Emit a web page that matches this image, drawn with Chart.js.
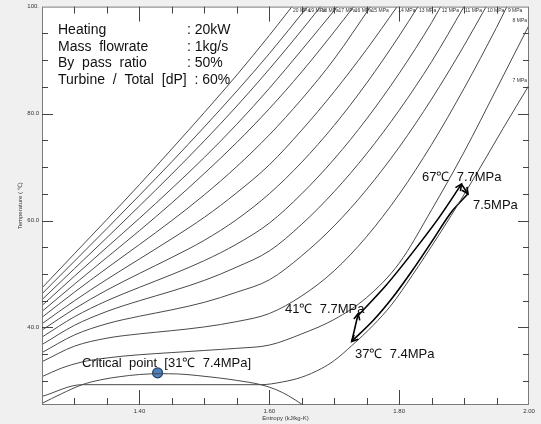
<!DOCTYPE html>
<html><head><meta charset="utf-8">
<script src="https://cdn.jsdelivr.net/npm/chart.js@4.4.1/dist/chart.umd.min.js"></script>
<style>
html,body{margin:0;padding:0;background:#f0f0f0;}
#wrap{width:541px;height:424px;}
</style></head><body>
<div id="wrap"><canvas id="c" width="541" height="424"></canvas></div>
<script>
// CO2 isobars, entropy (kJ/kg-K) vs temperature (C)
const s20 = [1.25,1.30,1.35,1.40,1.45,1.50,1.55,1.60,1.635];
const t20 = [47.4,53.8,60.2,66.7,73.4,80.2,87.2,94.6,100];
const s19 = [1.25,1.30,1.35,1.40,1.45,1.50,1.55,1.60,1.659];
const t19 = [46.3,52.4,58.5,64.7,71.0,77.5,84.2,91.2,100];
const s18 = [1.25,1.30,1.35,1.40,1.45,1.50,1.55,1.60,1.65,1.679];
const t18 = [45.2,51.0,56.8,62.7,68.7,74.9,81.4,88.3,95.6,100];
const s17 = [1.25,1.30,1.35,1.40,1.45,1.50,1.55,1.60,1.65,1.705];
const t17 = [44.1,49.6,55.0,60.4,66.0,71.8,78.0,84.7,91.9,100];
const s16 = [1.25,1.30,1.35,1.40,1.45,1.50,1.55,1.60,1.65,1.70,1.73];
const t16 = [43.0,48.1,53.1,58.1,63.3,68.8,74.6,80.9,87.8,95.3,100];
const s15 = [1.25,1.30,1.35,1.40,1.45,1.50,1.55,1.60,1.65,1.70,1.756];
const t15 = [41.9,46.6,51.1,55.5,60.0,64.8,70.1,76.0,82.7,90.2,100];
const s14 = [1.25,1.30,1.35,1.40,1.45,1.50,1.55,1.60,1.65,1.70,1.75,1.797];
const t14 = [40.7,45.0,49.0,52.8,56.6,60.6,65.2,70.4,76.9,84.1,92.0,100];
const s13 = [1.25,1.30,1.35,1.40,1.45,1.50,1.55,1.60,1.65,1.70,1.75,1.80,1.829];
const t13 = [39.5,43.5,47.0,50.1,53.1,56.3,60.2,65.0,70.9,77.8,85.7,94.5,100];
const s12 = [1.25,1.30,1.35,1.40,1.45,1.50,1.55,1.60,1.65,1.70,1.75,1.80,1.85,1.864];
const t12 = [38.2,42.0,45.0,47.5,49.9,52.5,55.6,59.5,65.0,71.5,79.0,87.5,97.0,100];
const s11 = [1.25,1.30,1.35,1.40,1.45,1.50,1.55,1.60,1.65,1.70,1.75,1.80,1.85,1.90];
const t11 = [36.8,40.4,43.0,45.0,46.8,48.8,51.3,54.3,59.3,65.4,72.5,80.6,89.7,100];
const s10 = [1.25,1.30,1.35,1.40,1.45,1.50,1.55,1.60,1.65,1.70,1.75,1.80,1.85,1.90,1.934];
const t10 = [35.3,38.6,40.7,42.1,43.3,44.7,46.6,48.9,53.4,59.0,65.8,73.7,82.7,92.7,100];
const s9 = [1.25,1.30,1.35,1.40,1.45,1.50,1.55,1.60,1.65,1.70,1.75,1.80,1.85,1.90,1.95,1.966];
const t9 = [33.6,36.5,38.0,38.8,39.4,40.1,41.1,42.6,45.9,50.6,57.0,64.9,74.2,84.7,96.1,100];
const s8 = [1.25,1.28,1.31,1.35,1.40,1.45,1.50,1.55,1.60,1.65,1.70,1.75,1.80,1.85,1.90,1.95,2.00];
const t8 = [30.8,32.4,33.5,34.3,34.9,35.3,35.7,36.1,36.7,38.8,41.5,45.6,52.0,62.0,72.8,84.6,96.5];
const s7 = [1.25,1.312,1.587,1.62,1.65,1.68,1.70,1.727,1.76,1.788,1.82,1.85,1.88,1.92,1.96,2.00];
const t7 = [27.1,29.3,29.3,29.8,30.7,32.3,33.8,36.6,40.4,44.2,49.7,55.2,60.9,68.9,77.2,85.3];
const pressures = ['20 MPa','19 MPa','18 MPa','17 MPa','16 MPa','15 MPa','14 MPa','13 MPa','12 MPa','11 MPa','10 MPa','9 MPa','8 MPa','7 MPa'];

// saturation dome
const sDome = [1.25,1.28,1.312,1.34,1.37,1.40,1.43,1.46,1.49,1.52,1.55,1.587,1.61,1.63,1.652];
const tDome = [25.8,27.6,29.3,30.2,30.8,31.2,31.35,31.3,31.0,30.6,30.1,29.3,28.4,27.2,25.5];
const critS = [1.428], critT = [31.5];

// cycle arrows
const heatS = [1.738,1.78,1.82,1.86,1.896];
const heatT = [42.4,47.9,53.9,60.3,66.8];
const expS = [1.896,1.906];
const expT = [66.8,65.0];
const coolS = [1.906,1.88,1.85,1.82,1.79,1.76,1.727];
const coolT = [65.0,61.5,56.0,50.6,45.6,41.3,37.4];
const compS = [1.727,1.737];
const compT = [37.4,42.6];

// ticks
const xMajor = [1.40,1.60,1.80,2.00];
const xMinor = [1.30,1.35,1.40,1.45,1.50,1.55,1.60,1.65,1.70,1.75,1.80,1.85,1.90,1.95];
const yMajor = [40,60,80,100];
const yMinor = [30,35,40,45,50,55,60,65,70,75,80,85,90,95];

const pts = (s,t) => s.map((v,i)=>({x:v,y:t[i]}));
const isoS = [s20,s19,s18,s17,s16,s15,s14,s13,s12,s11,s10,s9,s8,s7];
const isoT = [t20,t19,t18,t17,t16,t15,t14,t13,t12,t11,t10,t9,t8,t7];

const datasets = isoS.map((s,i)=>({data:pts(s,isoT[i]),borderColor:'#4a4a4a',borderWidth:1,pointRadius:0,showLine:true,cubicInterpolationMode:'monotone'}));
datasets.push({data:pts(sDome,tDome),borderColor:'#4a4a4a',borderWidth:1,pointRadius:0,showLine:true,cubicInterpolationMode:'monotone'});
const arrows = [[heatS,heatT],[expS,expT],[coolS,coolT],[compS,compT]];
arrows.forEach(a=>datasets.push({data:pts(a[0],a[1]),borderColor:'#000',borderWidth:1.6,pointRadius:0,showLine:true,tension:0.3,arrow:true}));
datasets.push({data:pts(critS,critT),pointRadius:5,pointBackgroundColor:'#4f81bd',pointBorderColor:'#1f3f66',pointBorderWidth:1.2,showLine:false});

const FONT = '"Liberation Sans", Arial, sans-serif';

const deco = {
  id:'deco',
  beforeDraw(c){
    const {ctx, chartArea:a} = c;
    ctx.save();
    ctx.fillStyle='#f0f0f0'; ctx.fillRect(0,0,c.width,c.height);
    ctx.fillStyle='#fff'; ctx.fillRect(a.left,a.top,a.right-a.left,a.bottom-a.top);
    ctx.restore();
  },
  afterDatasetsDraw(c){
    const {ctx, chartArea:a, scales:{x,y}} = c;
    ctx.save();
    // arrow heads
    c.data.datasets.forEach((d,i)=>{
      if(!d.arrow) return;
      const n=d.data.length, p=d.data[n-1], q=d.data[n-2];
      const px=x.getPixelForValue(p.x), py=y.getPixelForValue(p.y);
      const qx=x.getPixelForValue(q.x), qy=y.getPixelForValue(q.y);
      const ang=Math.atan2(py-qy,px-qx), L=7;
      ctx.strokeStyle='#000'; ctx.lineWidth=1.6;
      ctx.beginPath();
      ctx.moveTo(px-L*Math.cos(ang-0.45), py-L*Math.sin(ang-0.45));
      ctx.lineTo(px,py);
      ctx.lineTo(px-L*Math.cos(ang+0.45), py-L*Math.sin(ang+0.45));
      ctx.stroke();
    });
    // border and inward ticks
    ctx.strokeStyle='#7a7a7a'; ctx.lineWidth=1;
    ctx.strokeRect(a.left+0.5,a.top+0.5,a.right-a.left-1,a.bottom-a.top-1);
    ctx.strokeStyle='#444';
    ctx.beginPath();
    xMinor.forEach(v=>{
      const px=Math.round(x.getPixelForValue(v))+0.5, L=xMajor.includes(v)?15:7;
      ctx.moveTo(px,a.bottom); ctx.lineTo(px,a.bottom-L);
      ctx.moveTo(px,a.top); ctx.lineTo(px,a.top+L);
    });
    yMinor.forEach(v=>{
      const py=Math.round(y.getPixelForValue(v))+0.5, L=yMajor.includes(v)?11:6;
      ctx.moveTo(a.left,py); ctx.lineTo(a.left+L,py);
      ctx.moveTo(a.right,py); ctx.lineTo(a.right-L,py);
    });
    ctx.stroke();
    // isobar labels
    ctx.fillStyle='#333'; ctx.font='5px '+FONT; ctx.textBaseline='middle';
    isoS.forEach((s,i)=>{
      const t=isoT[i], ls=s[s.length-1], lt=t[t.length-1];
      if(lt>=100){ ctx.textAlign='left'; ctx.fillText(pressures[i], x.getPixelForValue(ls)+1, a.top+4); }
      else { ctx.textAlign='right'; ctx.fillText(pressures[i], a.right-2, y.getPixelForValue(lt)-5); }
    });
    // annotations
    ctx.fillStyle='#111'; ctx.textAlign='left'; ctx.font='14px '+FONT;
    const info=[['Heating',': 20kW'],['Mass  flowrate',': 1kg/s'],['By  pass  ratio',': 50%']];
    info.forEach((r,i)=>{ ctx.fillText(r[0],58,30.5+i*16.5); ctx.fillText(r[1],187,30.5+i*16.5); });
    ctx.fillText('Turbine  /  Total  [dP]  : 60%',58,80);
    ctx.font='13px '+FONT;
    ctx.fillText('Critical  point  [31℃  7.4MPa]',82,363);
    ctx.fillText('41℃  7.7MPa',285,309);
    ctx.fillText('37℃  7.4MPa',355,354);
    ctx.fillText('67℃  7.7MPa',422,177);
    ctx.fillText('7.5MPa',473,205);
    // axis titles
    ctx.fillStyle='#333'; ctx.font='6px '+FONT; ctx.textAlign='center';
    ctx.fillText('Entropy (kJ/kg-K)',(a.left+a.right)/2,418);
    ctx.translate(20,(a.top+a.bottom)/2); ctx.rotate(-Math.PI/2);
    ctx.fillText('Temperature ( ℃)',0,0);
    ctx.restore();
  }
};

new Chart(document.getElementById('c'),{
  type:'scatter',
  data:{datasets},
  options:{
    responsive:false, animation:false, events:[],
    layout:{padding:{top:6,right:12,left:0,bottom:0}},
    plugins:{legend:{display:false},tooltip:{enabled:false}},
    scales:{
      x:{type:'linear',min:1.25,max:2.0,
        afterBuildTicks:s=>{s.ticks=xMajor.map(v=>({value:v}));},
        afterFit:s=>{s.height=19;},
        grid:{display:false,drawTicks:false},border:{display:false},
        ticks:{padding:3,color:'#333',font:{size:6,family:FONT},callback:v=>v.toFixed(2),maxRotation:0,autoSkip:false}},
      y:{type:'linear',min:25.5,max:100,
        afterBuildTicks:s=>{s.ticks=yMajor.map(v=>({value:v}));},
        afterFit:s=>{s.width=42;},
        grid:{display:false,drawTicks:false},border:{display:false},
        ticks:{padding:3,color:'#333',font:{size:6,family:FONT},callback:v=>v===100?'100.':v.toFixed(1)}}
    }
  },
  plugins:[deco]
});
</script>
</body></html>
